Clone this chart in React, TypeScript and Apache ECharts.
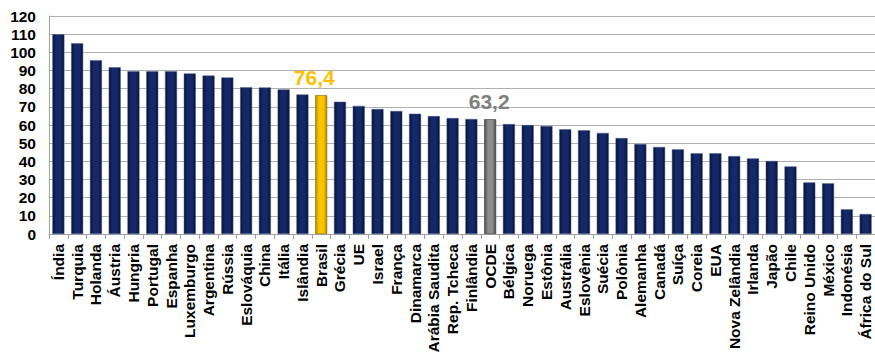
import React, { useEffect, useRef } from "react";
import * as echarts from "echarts";

const categories = [
  "Índia", "Turquia", "Holanda", "Áustria", "Hungria", "Portugal", "Espanha", "Luxemburgo",
  "Argentina", "Rússia", "Eslováquia", "China", "Itália", "Islândia", "Brasil", "Grécia",
  "UE", "Israel", "França", "Dinamarca", "Arábia Saudita", "Rep. Tcheca", "Finlândia", "OCDE",
  "Bélgica", "Noruega", "Estônia", "Austrália", "Eslovênia", "Suécia", "Polônia", "Alemanha",
  "Canadá", "Suíça", "Coreia", "EUA", "Nova Zelândia", "Irlanda", "Japão", "Chile",
  "Reino Unido", "México", "Indonésia", "África do Sul",
];

const values = [
  110, 105, 95.7, 91.8, 89.6, 89.6, 89.6, 88.4,
  87.2, 86.2, 80.8, 80.7, 79.6, 76.8, 76.4, 72.8,
  70.5, 68.8, 67.7, 66.2, 64.9, 63.8, 63.3, 63.2,
  60.5, 60.0, 59.4, 57.6, 57.1, 55.6, 52.8, 49.5,
  47.9, 46.6, 44.4, 44.4, 42.9, 41.6, 40.2, 37.2,
  28.4, 27.9, 13.6, 11.0,
];

const yTicks = { min: 0, max: 120, interval: 10 };
const goldCategory = "Brasil";
const grayCategory = "OCDE";

const FONT = "Liberation Sans, Arial, sans-serif";

const grad = (edge: string, mid: string) =>
  new echarts.graphic.LinearGradient(0, 0, 1, 0, [
    { offset: 0, color: edge },
    { offset: 0.3, color: mid },
    { offset: 0.7, color: mid },
    { offset: 1, color: edge },
  ]);

export default function App() {
  const ref = useRef<HTMLDivElement>(null);
  useEffect(() => {
    if (!ref.current) return;
    const chart = echarts.init(ref.current, null, { renderer: "svg" });
    const mkLabel = (v: number, color: string, offsetX: number) => ({
      show: true,
      position: "top",
      distance: 7,
      offset: [offsetX, 0],
      color,
      fontSize: 21,
      fontWeight: "bold",
      fontFamily: FONT,
      formatter: () => v.toFixed(1).replace(".", ","),
    });
    const data = values.map((v, i) => {
      const name = categories[i];
      if (name === goldCategory) {
        return {
          value: v,
          itemStyle: { color: grad("#b58a00", "#FFC400"), borderColor: "#8a6a00", borderWidth: 0.6 },
          label: mkLabel(v, "#FFC000", -7),
        };
      }
      if (name === grayCategory) {
        return {
          value: v,
          itemStyle: { color: grad("#4a4a4a", "#8c8c8c"), borderColor: "#3a3a3a", borderWidth: 0.6 },
          label: mkLabel(v, "#808080", -1),
        };
      }
      return { value: v };
    });
    chart.setOption({
      animation: false,
      backgroundColor: "#ffffff",
      grid: { left: 49, right: 0, top: 16, bottom: 129, containLabel: false },
      xAxis: {
        type: "category",
        data: categories,
        boundaryGap: true,
        axisLine: { show: true, lineStyle: { color: "#a0a0a0", width: 1 } },
        axisTick: { show: true, alignWithLabel: false, length: 5, lineStyle: { color: "#a0a0a0" } },
        axisLabel: {
          rotate: 90,
          interval: 0,
          margin: 10,
          color: "#000000",
          fontSize: 15.5,
          fontWeight: "bold",
          fontFamily: FONT,
        },
      },
      yAxis: {
        type: "value",
        min: yTicks.min,
        max: yTicks.max,
        interval: yTicks.interval,
        axisLine: { show: true, lineStyle: { color: "#a0a0a0", width: 1 } },
        axisTick: { show: false },
        splitLine: { show: true, lineStyle: { color: "#b0b0b0", width: 1 } },
        axisLabel: {
          margin: 13,
          color: "#000000",
          fontSize: 15.5,
          fontWeight: "bold",
          fontFamily: FONT,
        },
      },
      series: [
        {
          type: "bar",
          data,
          barWidth: 12,
          itemStyle: {
            color: grad("#06112e", "#15296a"),
            borderColor: "#4a5a8a",
            borderWidth: 0.5,
          },
        },
      ],
    });
    return () => chart.dispose();
  }, []);
  return (
    <div
      ref={ref}
      style={{ position: "fixed", left: 0, top: 0, width: 875, height: 363, background: "#fff" }}
    />
  );
}
